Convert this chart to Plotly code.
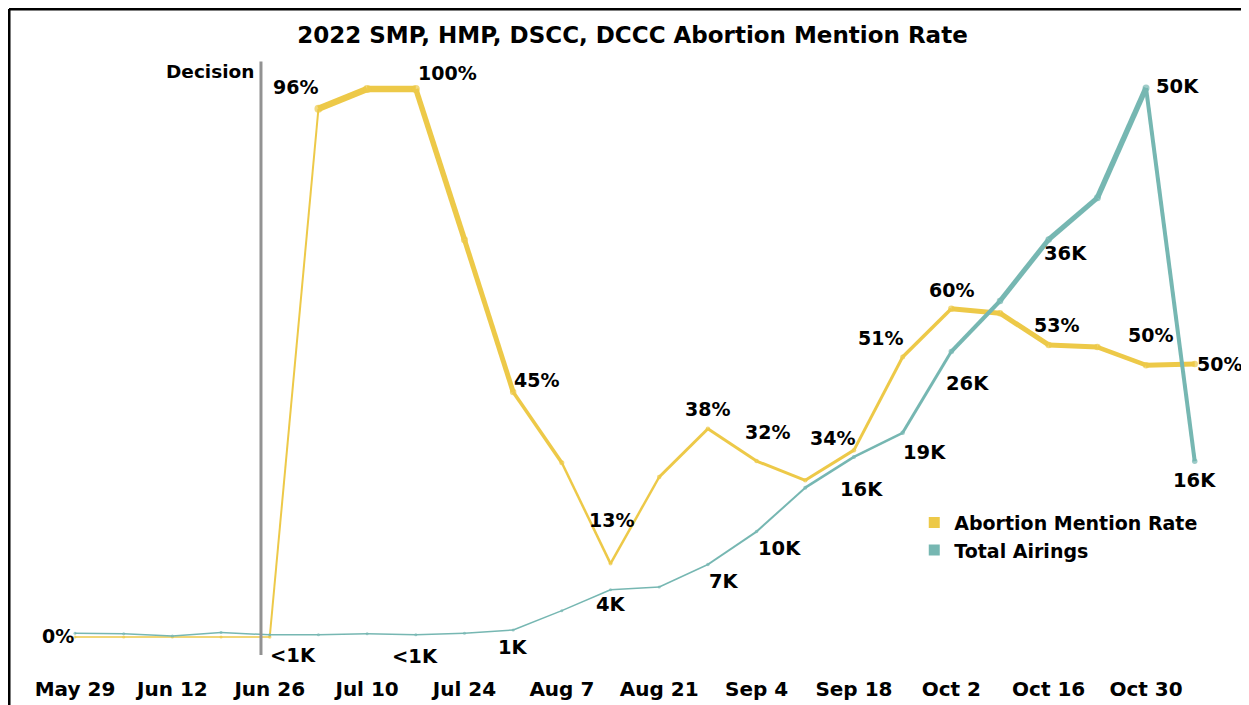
import plotly.graph_objects as go

# ---------------- data ----------------
week_labels = ["May 29", "Jun 5", "Jun 12", "Jun 19", "Jun 26", "Jul 3", "Jul 10", "Jul 17",
               "Jul 24", "Jul 31", "Aug 7", "Aug 14", "Aug 21", "Aug 28", "Sep 4", "Sep 11",
               "Sep 18", "Sep 25", "Oct 2", "Oct 9", "Oct 16", "Oct 23", "Oct 30", "Nov 6"]
weeks = list(range(len(week_labels)))
tick_weeks = weeks[0:23:2]
tick_labels = week_labels[0:23:2]

mention_rate = [0, 0, 0, 0, 0, 96.4, 100, 100, 72.5, 44.7, 31.8, 13.4, 29.2, 38.0, 32.1, 28.6,
                34.1, 51.1, 59.9, 59.1, 53.3, 52.9, 49.6, 49.8]          # percent
total_airings = [0.35, 0.3, 0.1, 0.4, 0.2, 0.2, 0.3, 0.2, 0.35, 0.64, 2.4, 4.3, 4.55, 6.6, 9.6,
                 13.6, 16.4, 18.6, 26.0, 30.6, 36.2, 40.0, 50.0, 16.0]    # thousands

decision_week = 3.82   # Jun 24 ruling
rate_label_idx = [0, 5, 7, 9, 11, 13, 14, 16, 17, 18, 20, 22, 23]
air_label_idx = [4, 7, 9, 11, 13, 14, 16, 17, 18, 20, 22, 23]

# ---------------- styles ----------------
YEL = "#EDC948"
TEAL = "#76B7B2"
FONT = "DejaVu Sans"

rate_w = [1.5, 1.5, 1.5, 1.5, 2, 6.5, 6.5, 5.5, 5, 3.5, 2.5, 2.5, 3, 3, 3, 3, 3, 3.5, 5, 5, 5, 4.5, 5]
air_w = [1.5] * 13 + [2, 2, 2.5, 2.5, 3, 4, 5, 5, 5.5, 4]

rate_shift = {0: (-17, 1), 5: (-23, 22), 7: (32, 16), 9: (23, 12), 11: (1, 44), 13: (0, 20),
              14: (11, 29), 16: (-21, 12), 17: (-22, 19), 18: (0, 19), 20: (8, 20),
              22: (4, 30), 23: (25, 0)}
air_shift = {4: (23, -21), 7: (-1, -22), 9: (0, -18), 11: (0, -15), 13: (16, -17), 14: (23, -17),
             16: (8, -33), 17: (22, -20), 18: (16, -32), 20: (17, -14), 22: (31, 1), 23: (0, -19)}

fig = go.Figure()


def add_series(vals, widths, color, yaxis):
    n = len(vals)
    for i in range(n - 1):
        fig.add_trace(go.Scatter(x=[weeks[i], weeks[i + 1]], y=[vals[i], vals[i + 1]],
                                 mode="lines", line=dict(color=color, width=widths[i]),
                                 showlegend=False, hoverinfo="skip", yaxis=yaxis))
    msize = [max(widths[max(i - 1, 0)], widths[min(i, n - 2)]) + 1.5 for i in range(n)]
    fig.add_trace(go.Scatter(x=weeks, y=vals, mode="markers",
                             marker=dict(color=color, size=msize, line=dict(width=0)),
                             showlegend=False, yaxis=yaxis))


add_series(mention_rate, rate_w, YEL, "y")
add_series(total_airings, air_w, TEAL, "y2")

# legend entries
fig.add_trace(go.Scatter(x=[None], y=[None], mode="markers", name="<b>Abortion Mention Rate</b>",
                         marker=dict(symbol="square", size=11, color=YEL)))
fig.add_trace(go.Scatter(x=[None], y=[None], mode="markers", name="<b>Total Airings</b>",
                         marker=dict(symbol="square", size=11, color=TEAL)))

ann = []
for i in rate_label_idx:
    dx, dy = rate_shift[i]
    ann.append(dict(x=weeks[i], y=mention_rate[i], xref="x", yref="y",
                    text="<b>%.0f%%</b>" % mention_rate[i], showarrow=False,
                    xshift=dx, yshift=dy, font=dict(size=19, color="black", family=FONT)))
for i in air_label_idx:
    dx, dy = air_shift[i]
    v = total_airings[i]
    txt = "&lt;1K" if v < 0.5 else "%.0fK" % v
    ann.append(dict(x=weeks[i], y=v, xref="x", yref="y2",
                    text="<b>" + txt + "</b>", showarrow=False,
                    xshift=dx, yshift=dy, font=dict(size=19.5, color="black", family=FONT)))
ann.append(dict(x=decision_week, y=105, xref="x", yref="y", text="<b>Decision</b>",
                showarrow=False, xanchor="right", xshift=-5, yshift=-10,
                font=dict(size=18.5, color="black", family=FONT)))

shapes = [
    dict(type="line", xref="x", yref="y", x0=decision_week, x1=decision_week, y0=-3.3, y1=105,
         line=dict(color="#929292", width=3)),
    dict(type="line", xref="paper", yref="paper", x0=-0.009, x1=1.014, y0=1.0488, y1=1.0488,
         line=dict(color="black", width=3)),
    dict(type="line", xref="paper", yref="paper", x0=-0.009, x1=-0.009, y0=1.0488, y1=-0.1,
         line=dict(color="black", width=3)),
]

fig.update_layout(
    width=1249, height=705,
    margin=dict(l=12, r=17, t=32, b=38, autoexpand=False),
    paper_bgcolor="white", plot_bgcolor="white",
    font=dict(family=FONT, color="black"),
    title=dict(text="<b>2022 SMP, HMP, DSCC, DCCC Abortion Mention Rate</b>",
               x=0.5, xanchor="center", y=1 - 27 / 705, yanchor="middle",
               font=dict(size=23, color="black", family=FONT)),
    xaxis=dict(range=[-1.13, 23.93], tickvals=tick_weeks,
               ticktext=["<b>%s</b>" % t for t in tick_labels],
               tickfont=dict(size=20, color="black", family=FONT), automargin=False,
               showgrid=False, zeroline=False, showline=False, ticks=""),
    yaxis=dict(range=[-6.93, 108.94], visible=False),
    yaxis2=dict(range=[-3.46, 54.37], visible=False, overlaying="y"),
    legend=dict(x=0.733, y=0.270, xanchor="left", yanchor="top",
                font=dict(size=19, color="black", family=FONT),
                bgcolor="rgba(0,0,0,0)", tracegroupgap=0),
    annotations=ann, shapes=shapes,
    showlegend=True,
)

fig.write_html("out.html")
